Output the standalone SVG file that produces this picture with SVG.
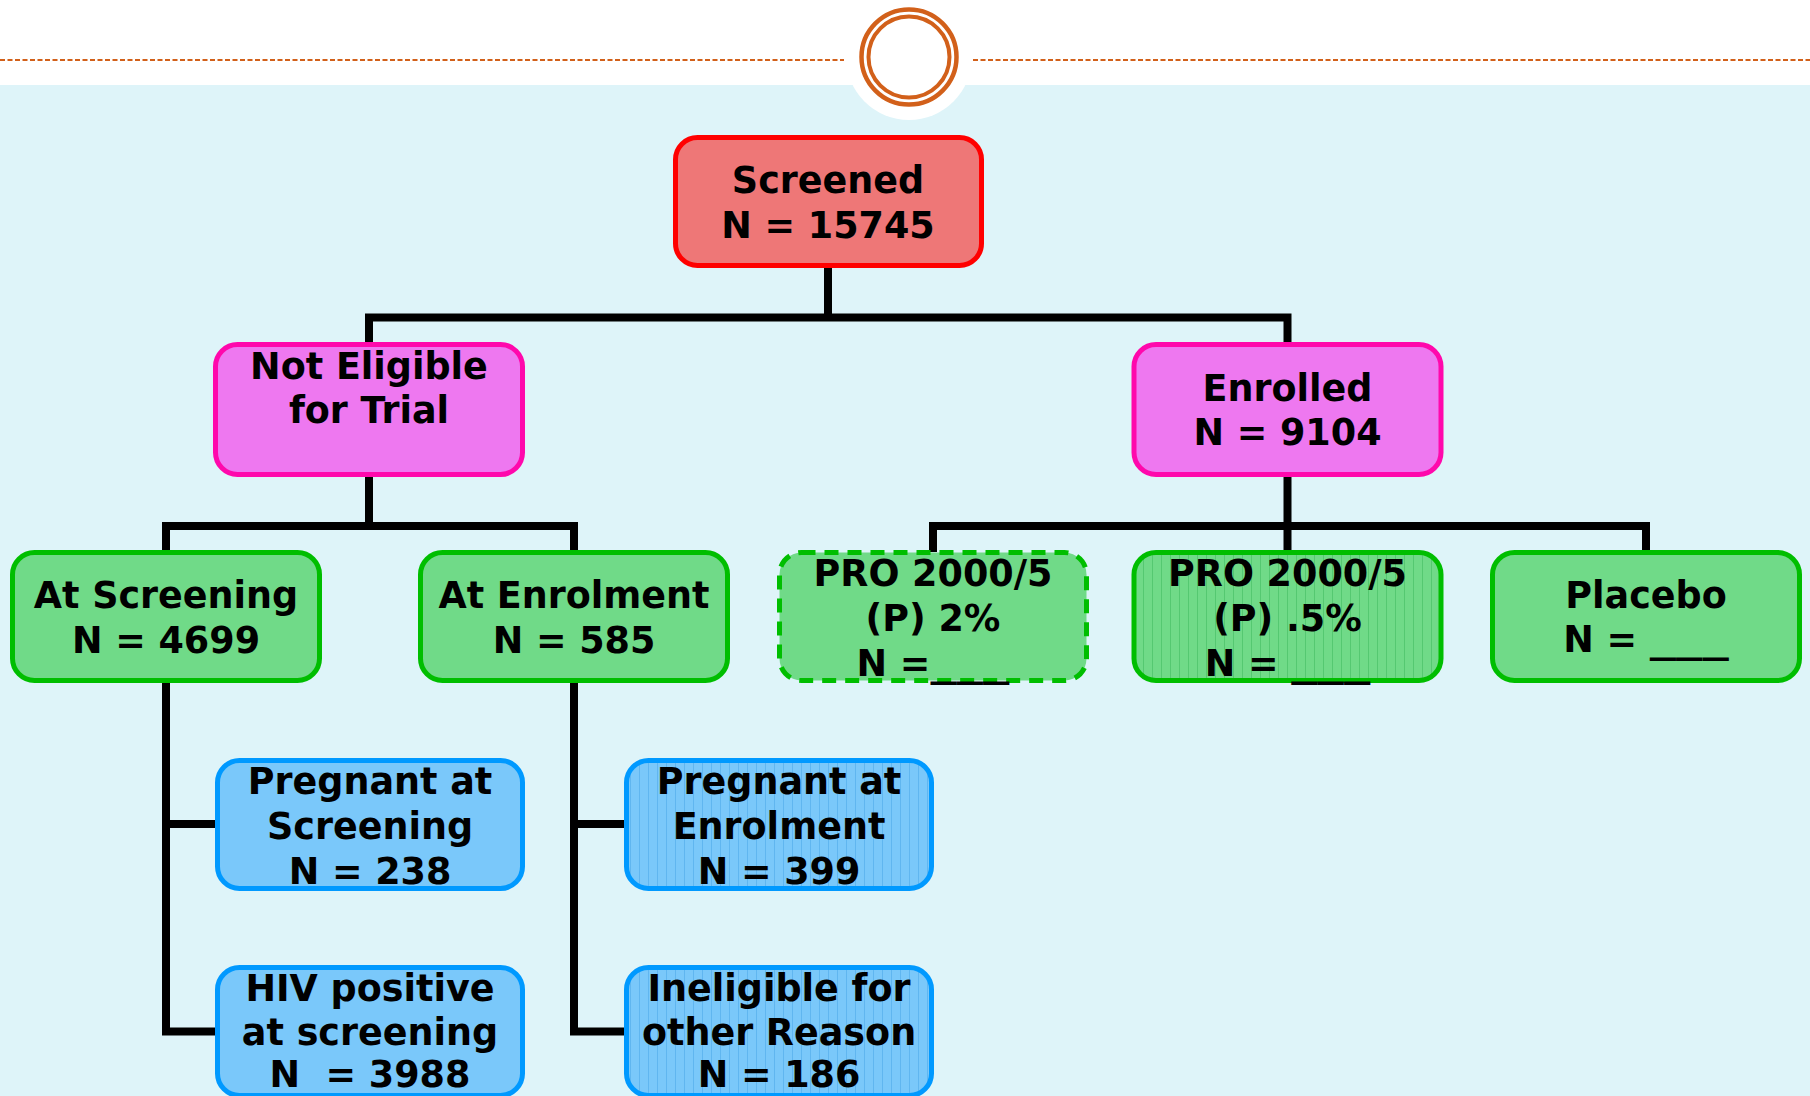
<svg xmlns="http://www.w3.org/2000/svg" width="1810" height="1096" viewBox="0 0 1810 1096">
  <defs>
    <pattern id="greenStripe" width="9" height="20" patternUnits="userSpaceOnUse">
      <rect width="9" height="20" fill="#70DA88"/>
      <rect x="0" width="1" height="20" fill="#55C871"/>
    </pattern>
    <pattern id="blueStripe" width="9" height="20" patternUnits="userSpaceOnUse">
      <rect width="9" height="20" fill="#7AC8FA"/>
      <rect x="0" width="1" height="20" fill="#60B6F0"/>
    </pattern>
  </defs>
  <style>
    .box { stroke-width: 5; }
    .red { fill: #EE7777; stroke: #FF0000; }
    .pink { fill: #EE78F0; stroke: #FF08AC; }
    .green { fill: #70DA88; stroke: #00BE00; }
    .greenS { fill: url(#greenStripe); stroke: #00BE00; }
    .dash { stroke-dasharray: 14 9; }
    .blue { fill: #7AC8FA; stroke: #0099FF; }
    .blueS { fill: url(#blueStripe); stroke: #0099FF; }
    text { font-family: "DejaVu Sans", Verdana, sans-serif; font-weight: bold; font-size: 36.5px; fill: #000000; text-anchor: middle; }
    .conn { fill: none; stroke: #000000; stroke-width: 8; stroke-linecap: butt; stroke-linejoin: miter; }
  </style>

  <!-- background -->
  <rect x="0" y="0" width="1810" height="1096" fill="#DEF4F9"/>
  <rect x="0" y="0" width="1810" height="85" fill="#FFFFFF"/>
  <g id="header">
    <circle cx="909" cy="57" r="63" fill="#FFFFFF"/>
    <line x1="0" y1="60" x2="844" y2="60" stroke="#D2601A" stroke-width="2" stroke-dasharray="5 2.5"/>
    <line x1="973" y1="60" x2="1810" y2="60" stroke="#D2601A" stroke-width="2" stroke-dasharray="5 2.5"/>
    <circle cx="909" cy="57" r="47.5" fill="#FFFFFF" stroke="#D2601A" stroke-width="4.5"/>
    <circle cx="909" cy="57" r="40.5" fill="none" stroke="#D2601A" stroke-width="4"/>
  </g>

  <!-- connectors -->
  <g id="connectors" class="conn">
    <path class="conn" d="M828 268 V317.5"/>
    <path class="conn" d="M369 344 V317.5 H1287.5 V344"/>
    <path class="conn" d="M369 477 V526"/>
    <path class="conn" d="M166 552 V526 H574 V552"/>
    <path class="conn" d="M1287.5 477 V552"/>
    <path class="conn" d="M933 552 V526 H1646 V552"/>
    <path class="conn" d="M166 683 V1031.5 H217"/>
    <path class="conn" d="M166 824 H217"/>
    <path class="conn" d="M574 683 V1031.5 H626"/>
    <path class="conn" d="M574 824 H626"/>
  </g>

  <g id="screened">
    <rect class="box red" x="675.5" y="137.5" width="306" height="128" rx="22"/>
    <text x="828" y="193">Screened</text>
    <text x="828" y="238">N = 15745</text>
  </g>

  <g id="not-eligible">
    <rect class="box pink" x="215.5" y="344.5" width="307" height="130" rx="22"/>
    <text x="369" y="379">Not Eligible</text>
    <text x="369" y="423">for Trial</text>
  </g>

  <g id="enrolled">
    <rect class="box pink" x="1134" y="344.5" width="307" height="130" rx="22"/>
    <text x="1287.5" y="401">Enrolled</text>
    <text x="1287.5" y="445">N = 9104</text>
  </g>

  <g id="at-screening">
    <rect class="box green" x="12.5" y="552.5" width="307" height="128" rx="22"/>
    <text x="166" y="608">At Screening</text>
    <text x="166" y="653">N = 4699</text>
  </g>

  <g id="at-enrolment">
    <rect class="box green" x="420.5" y="552.5" width="307" height="128" rx="22"/>
    <text x="574" y="608">At Enrolment</text>
    <text x="574" y="653">N = 585</text>
  </g>

  <g id="pro-2">
    <rect class="box green dash" x="779.5" y="552.5" width="307" height="128" rx="22"/>
    <text x="933" y="586">PRO 2000/5</text>
    <text x="933" y="631">(P) 2%</text>
    <text x="933" y="676">N =<tspan textLength="79" lengthAdjust="spacingAndGlyphs">___</tspan></text>
  </g>

  <g id="pro-05">
    <rect class="box greenS" x="1134" y="552.5" width="307" height="128" rx="22"/>
    <text x="1287.5" y="586">PRO 2000/5</text>
    <text x="1287.5" y="631">(P) .5%</text>
    <text x="1287.5" y="676">N = <tspan textLength="79" lengthAdjust="spacingAndGlyphs">___</tspan></text>
  </g>

  <g id="placebo">
    <rect class="box green" x="1492.5" y="552.5" width="307" height="128" rx="22"/>
    <text x="1646" y="608">Placebo</text>
    <text x="1646" y="652">N = <tspan textLength="79" lengthAdjust="spacingAndGlyphs">___</tspan></text>
  </g>

  <g id="pregnant-screening">
    <rect class="box blue" x="217.5" y="760.5" width="305" height="128" rx="22"/>
    <text x="370" y="794">Pregnant at</text>
    <text x="370" y="839">Screening</text>
    <text x="370" y="884">N = 238</text>
  </g>

  <g id="pregnant-enrolment">
    <rect class="box blueS" x="626.5" y="760.5" width="305" height="128" rx="22"/>
    <text x="779" y="794">Pregnant at</text>
    <text x="779" y="839">Enrolment</text>
    <text x="779" y="884">N = 399</text>
  </g>

  <g id="hiv-positive">
    <rect class="box blue" x="217.5" y="967.5" width="305" height="128" rx="22"/>
    <text x="370" y="1001">HIV positive</text>
    <text x="370" y="1045">at screening</text>
    <text x="370" y="1087" xml:space="preserve">N  = 3988</text>
  </g>

  <g id="ineligible-other">
    <rect class="box blueS" x="626.5" y="967.5" width="305" height="128" rx="22"/>
    <text x="779" y="1001">Ineligible for</text>
    <text x="779" y="1045">other Reason</text>
    <text x="779" y="1087">N = 186</text>
  </g>
</svg>
